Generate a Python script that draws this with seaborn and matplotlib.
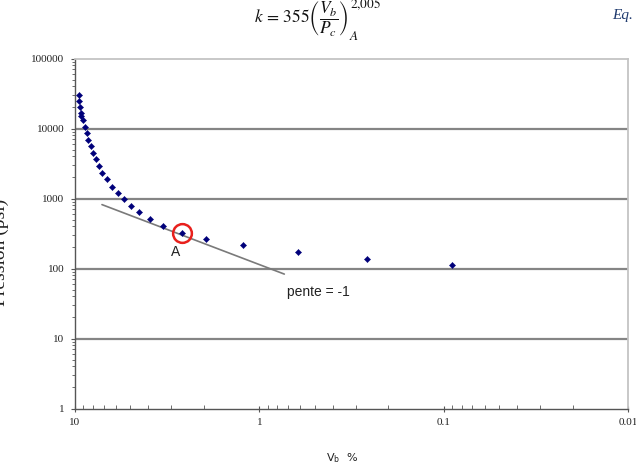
import matplotlib
matplotlib.use("Agg")
import matplotlib.pyplot as plt
import seaborn as sns
import pandas as pd

# ---- data ----
vb_pct = [9.48, 9.48, 9.39, 9.31, 9.24, 9.08, 8.86, 8.64, 8.50, 8.22, 7.96,
          7.69, 7.38, 7.14, 6.73, 6.30, 5.84, 5.42, 4.95, 4.48, 3.92, 3.32,
          2.63, 1.95, 1.23, 0.619, 0.261, 0.0897]
pression = [29800, 25000, 20200, 16700, 14900, 13400, 10400, 8630, 6920,
            5610, 4500, 3610, 2930, 2350, 1890, 1480, 1190, 987, 791, 636,
            510, 409, 324, 268, 218, 173, 136, 113]
point_a = (2.63, 324)
pente_x = [7.14, 0.732]
pente_y = [818, 83.2]
x_ticks = [10, 1, 0.1, 0.01]
x_tick_labels = ["10", "1", "0.1", "0.01"]
y_ticks = [1, 10, 100, 1000, 10000, 100000]
y_tick_labels = ["1", "10", "100", "1000", "10000", "100000"]
grid_levels = [10, 100, 1000, 10000]

df = pd.DataFrame({"Vb": vb_pct, "P": pression})

sns.set_style("white")
plt.rcParams["font.family"] = ["DejaVu Sans"]
plt.rcParams["mathtext.fontset"] = "stix"

W, H = 636, 468
fig = plt.figure(figsize=(W / 100, H / 100), dpi=100)
ax = fig.add_axes([75 / W, 1 - 408.5 / H, (628 - 75) / W, (408.5 - 58.5) / H])

ax.set_xscale("log")
ax.set_yscale("log")
ax.set_xlim(10, 0.01)
ax.set_ylim(1, 100000)

for g in grid_levels:
    ax.axhline(g, color="#858585", lw=1.6, zorder=1)

sns.lineplot(x=pente_x, y=pente_y, ax=ax, color="#7a7a7a", lw=1.2,
             zorder=2, sort=False)
sns.scatterplot(data=df, x="Vb", y="P", ax=ax, marker="D", s=10,
                color="#00007a", edgecolor="#00007a", linewidth=0.3, zorder=3)
ax.plot([point_a[0]], [point_a[1]], marker="o", ms=13.5, mfc="none",
        mec="#e8201c", mew=1.8, zorder=4, ls="none")

ax.text(2.86, 172, "A", fontsize=10, family="Liberation Sans",
        ha="center", va="center", color="#222222")
ax.text(0.71, 46, "pente = -1", fontsize=10, family="Liberation Sans",
        ha="left", va="center", color="#222222")

# axes styling
for s in ["left", "bottom"]:
    ax.spines[s].set_color("#555555")
    ax.spines[s].set_linewidth(1.0)
for s in ["top", "right"]:
    ax.spines[s].set_color("#c4c4c4")
    ax.spines[s].set_linewidth(1.3)

ax.set_xticks(x_ticks)
ax.set_xticklabels(x_tick_labels)
ax.set_yticks(y_ticks)
ax.set_yticklabels(y_tick_labels)
ax.tick_params(axis="y", which="major", direction="out", length=3, width=0.8,
               color="#555555", left=True, pad=4.5)
ax.tick_params(axis="y", which="minor", direction="out", length=2, width=0.6,
               color="#555555", left=True)
ax.tick_params(axis="x", which="major", direction="inout", length=5,
               width=0.8, color="#555555", bottom=True, pad=4)
ax.tick_params(axis="x", which="minor", direction="in", length=3, width=0.6,
               color="#555555", bottom=True)
for lab in ax.get_xticklabels() + ax.get_yticklabels():
    lab.set_family("Liberation Serif")
    lab.set_fontsize(8)
    lab.set_color("#222222")
ax.set_xlabel("")
ax.set_ylabel("")

# axis titles
fig.text(342 / W, 1 - 458 / H, r"V$_\mathregular{b}$  %", fontsize=8,
         family="DejaVu Sans", ha="center", va="center", color="#222222")
fig.text(9 / W, 1 - 252 / H, "Pression (psi)", fontsize=14,
         family="Liberation Serif", rotation=90, ha="right", va="center",
         color="#222222")

# equation header
eq = fig.text(254 / W, 1 - 19 / H,
              r"$k\,=\,355\left(\dfrac{V_b}{P_c}\right)$",
              fontsize=12.5, ha="left", va="center", color="#111111")
fig.canvas.draw()
bb = eq.get_window_extent()
x_end = bb.x1 / W
fig.text(x_end + 1 / W, 1 - 4 / H, r"$2{,}005$", fontsize=9.5,
         ha="left", va="center", color="#111111")
fig.text(x_end + 0.5 / W, 1 - 36 / H, r"$A$", fontsize=9.5,
         ha="left", va="center", color="#111111")
fig.text(633 / W, 1 - 16 / H, "Eq.", fontsize=11, family="Liberation Serif",
         style="italic", ha="right", va="center", color="#1f3a6e")

fig.savefig("out.png", dpi=100)
